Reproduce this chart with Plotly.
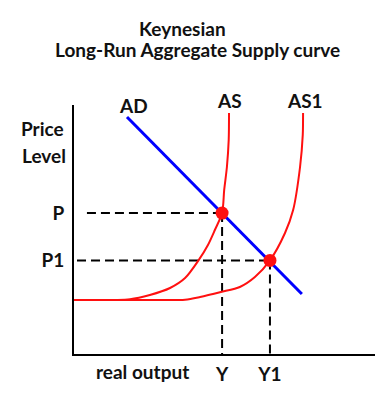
import plotly.graph_objects as go

# ---- data (real output on x, price level on y; arbitrary units 0-100) ----
eq_output = [49.2, 65.1]          # Y, Y1
eq_price = [56.6, 37.6]           # P, P1
output_labels = ["Y", "Y1"]
price_labels = ["P", "P1"]

ad_output = [17.6, 75.7]
ad_price = [95.2, 24.1]

as_output = [0, 18.6, 25.2, 31.9, 36.9, 41.2, 44.5, 46.8, 49.2, 49.9, 50.8, 51.4, 51.5]
as_price = [21.7, 22.0, 23.7, 26.5, 30.5, 37.3, 43.8, 49.8, 56.6, 65.9, 75.1, 86.0, 96.8]

as1_output = [0, 25.2, 36.9, 41.9, 48.8, 55.1, 60.1, 65.1, 70.1, 72.8, 75.1, 76.0, 76.1]
as1_price = [21.7, 21.7, 21.8, 22.9, 24.9, 26.9, 30.9, 37.6, 48.6, 57.8, 75.1, 88.0, 96.8]

dash_start = [4.3, 1.0]

FONT = "Lato"
RED = "#ff1010"
BLUE = "#0000ff"

fig = go.Figure()

# dashed guide lines
for i in range(2):
    fig.add_trace(go.Scatter(x=[dash_start[i], eq_output[i]], y=[eq_price[i], eq_price[i]],
                             mode="lines", line=dict(color="black", width=2, dash="9px,5px"),
                             hoverinfo="skip", showlegend=False))
    fig.add_trace(go.Scatter(x=[eq_output[i], eq_output[i]], y=[eq_price[i], 0],
                             mode="lines", line=dict(color="black", width=2, dash="9px,5px"),
                             hoverinfo="skip", showlegend=False))

fig.add_trace(go.Scatter(x=as_output, y=as_price, mode="lines",
                         line=dict(color=RED, width=2, shape="spline", smoothing=0.8),
                         showlegend=False, name="AS"))
fig.add_trace(go.Scatter(x=as1_output, y=as1_price, mode="lines",
                         line=dict(color=RED, width=2, shape="spline", smoothing=0.8),
                         showlegend=False, name="AS1"))
fig.add_trace(go.Scatter(x=ad_output, y=ad_price, mode="lines",
                         line=dict(color=BLUE, width=3), showlegend=False, name="AD"))
fig.add_trace(go.Scatter(x=eq_output, y=eq_price, mode="markers",
                         marker=dict(color=RED, size=13), showlegend=False, cliponaxis=False))

txt = dict(family=FONT, size=19, color="#111111")
# positions in axis units (range 0-100 on both axes) -> paper fractions
annots = [
    dict(x=36.2, y=130.9, text="<b>Keynesian</b>"),
    dict(x=40.9, y=122.1, text="<b>Long-Run Aggregate Supply curve</b>"),
    dict(x=-10.3, y=90.4, text="<b>Price</b>"),
    dict(x=-10.0, y=79.9, text="<b>Level</b>"),
    dict(x=19.9, y=99.6, text="<b>AD</b>"),
    dict(x=51.5, y=102.0, text="<b>AS</b>"),
    dict(x=76.7, y=102.0, text="<b>AS1</b>"),
    dict(x=22.6, y=-7.2, text="<b>real output</b>"),
]
for a in annots:
    a.update(x=a["x"] / 100.0, y=a["y"] / 100.0, xref="paper", yref="paper",
             showarrow=False, xanchor="center", yanchor="middle", font=txt)

fig.update_layout(
    width=375, height=413,
    margin=dict(l=74, r=0, t=105, b=59),
    paper_bgcolor="white", plot_bgcolor="white",
    annotations=annots,
    xaxis=dict(range=[0, 100], showgrid=False, zeroline=False, showline=True,
               linecolor="black", linewidth=2,
               tickvals=eq_output, ticktext=["<b>%s</b>" % t for t in output_labels],
               ticks="", tickfont=txt, ticklabelstandoff=2),
    yaxis=dict(range=[0, 100], showgrid=False, zeroline=False, showline=True,
               linecolor="black", linewidth=2,
               tickvals=eq_price, ticktext=["<b>%s</b>" % t for t in price_labels],
               ticks="", tickfont=txt, ticklabelstandoff=4),
)

fig.write_html("out.html", config={"displayModeBar": False},
               post_script="document.body.style.margin='0';document.body.style.overflow='hidden';")
